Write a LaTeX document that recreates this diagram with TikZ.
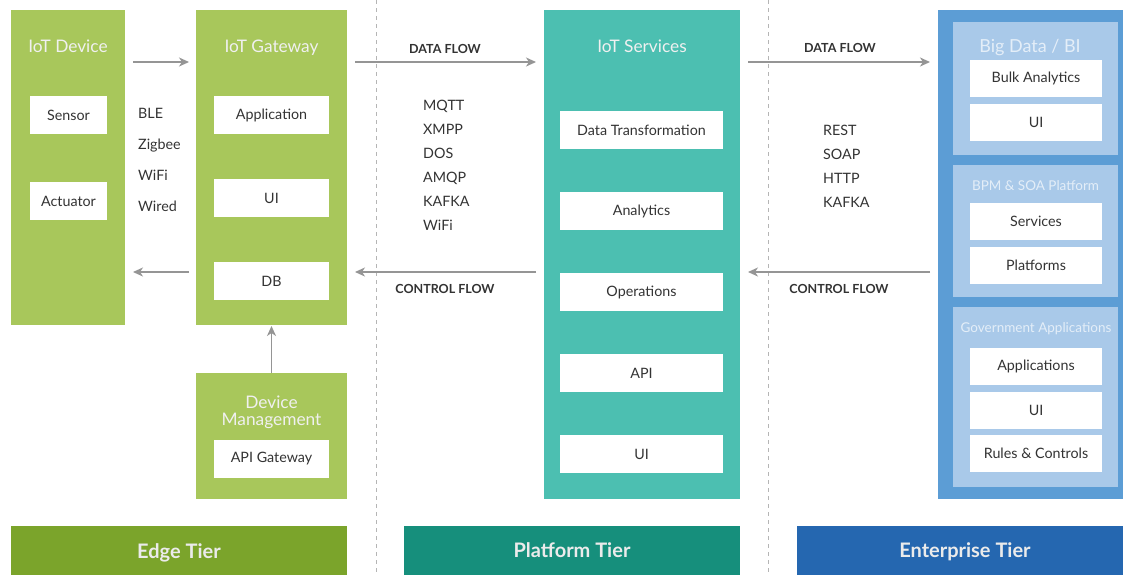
\documentclass[tikz,border=0pt]{standalone}
\usepackage{fontspec}
\setmainfont{Lato}
\usetikzlibrary{arrows.meta}
\definecolor{edgecol}{HTML}{A8C75B}
\definecolor{edgedark}{HTML}{7BA42B}
\definecolor{platcol}{HTML}{4CBFB1}
\definecolor{platdark}{HTML}{168F7C}
\definecolor{entcol}{HTML}{5C9DD5}
\definecolor{entlight}{HTML}{A9C9E9}
\definecolor{entdark}{HTML}{2567B0}
\definecolor{arrowgray}{HTML}{959595}
\definecolor{divgray}{HTML}{B5B5B5}
\definecolor{textdark}{HTML}{333333}
\definecolor{paletitle}{HTML}{E4EEF8}
\begin{document}
\begin{tikzpicture}[x=1pt,y=-1pt,
  panel/.style={inner sep=0pt, outer sep=0pt, anchor=north west},
  wbox/.style={fill=white, text=textdark, inner sep=0pt, outer sep=0pt,
    minimum height=38pt, font=\fontsize{14.3}{16}\selectfont},
  coltitle/.style={text=white!94!black, inner sep=0pt, anchor=base,
    font=\fontsize{17.3}{17}\selectfont},
  subtitle/.style={text=paletitle, inner sep=0pt, anchor=base,
    font=\fontsize{13.5}{13}\selectfont},
  proto/.style={text=textdark, inner sep=0pt, anchor=base west,
    font=\fontsize{14.3}{16}\selectfont},
  flowlbl/.style={text=textdark, inner sep=0pt, anchor=base,
    font=\bfseries\fontsize{12.5}{14}\selectfont},
  tiertxt/.style={text=white!92!black, inner sep=0pt, anchor=base,
    font=\bfseries\fontsize{20}{22}\selectfont},
  flow/.style={draw=arrowgray, line width=1.6pt,
    -{Stealth[length=10pt,width=9pt,inset=3pt]}},
  divider/.style={draw=divgray, line width=0.8pt, dash pattern=on 4pt off 4pt}
]
\useasboundingbox (0,0) rectangle (1123,574);
\fill[white] (0,0) rectangle (1123,574);

% tier dividers
\coordinate (d1t) at (376,0);  \coordinate (d1b) at (376,574);
\coordinate (d2t) at (768,0);  \coordinate (d2b) at (768,574);
\draw[divider] (d1t) -- (d1b);
\draw[divider] (d2t) -- (d2b);

% ---------------- Edge tier ----------------
\node[panel, fill=edgecol, minimum width=114pt, minimum height=315pt] (dev) at (11,10) {};
\node[coltitle] (devt) at (68,52) {IoT Device};
\node[wbox, minimum width=77pt] (sensor) at (68.5,115) {Sensor};
\node[wbox, minimum width=77pt] (actuator) at (68.5,201) {Actuator};

\node[panel, fill=edgecol, minimum width=151pt, minimum height=315pt] (gw) at (196,10) {};
\node[coltitle] (gwt) at (271.5,52) {IoT Gateway};
\node[wbox, minimum width=115pt] (app) at (271.5,115) {Application};
\node[wbox, minimum width=115pt] (gwui) at (271.5,198) {UI};
\node[wbox, minimum width=115pt] (db) at (271.5,281) {DB};

\node[panel, fill=edgecol, minimum width=151pt, minimum height=126pt] (dm) at (196,373) {};
\node[coltitle] (dmt1) at (271.5,408) {Device};
\node[coltitle] (dmt2) at (271.5,425) {Management};
\node[wbox, minimum width=115pt] (apigw) at (271.5,459) {API Gateway};

\node[proto] (p1) at (138,118) {BLE};
\node[proto] (p2) at (138,149) {Zigbee};
\node[proto] (p3) at (138,180) {WiFi};
\node[proto] (p4) at (138,211) {Wired};

\coordinate (e1s) at (133,62);  \coordinate (e1e) at (189,62);
\coordinate (e2s) at (189,272); \coordinate (e2e) at (133,272);
\draw[flow] (e1s) -- (e1e);
\draw[flow] (e2s) -- (e2e);
\draw[flow, shorten >=1pt] (dm.north) -- (gw.south);

\node[panel, fill=edgedark, minimum width=336pt, minimum height=50pt] (edgetier) at (11,526) {};
\node[tiertxt] (edgelbl) at (179,558) {Edge Tier};

% ---------------- Platform tier ----------------
\node[panel, fill=platcol, minimum width=196pt, minimum height=489pt] (svc) at (544,10) {};
\node[coltitle] (svct) at (642,52) {IoT Services};
\node[wbox, minimum width=163pt] (dt) at (641.5,130) {Data Transformation};
\node[wbox, minimum width=163pt] (ana) at (641.5,211) {Analytics};
\node[wbox, minimum width=163pt] (ops) at (641.5,292) {Operations};
\node[wbox, minimum width=163pt] (api) at (641.5,373) {API};
\node[wbox, minimum width=163pt] (svcui) at (641.5,454) {UI};

\node[flowlbl] (df1) at (445,53) {DATA FLOW};
\node[flowlbl] (cf1) at (445,293.5) {CONTROL FLOW};
\coordinate (m1s) at (355,62);  \coordinate (m1e) at (536,62);
\coordinate (m2s) at (536,272); \coordinate (m2e) at (355,272);
\draw[flow] (m1s) -- (m1e);
\draw[flow] (m2s) -- (m2e);

\node[proto] (q1) at (423,110) {MQTT};
\node[proto] (q2) at (423,134) {XMPP};
\node[proto] (q3) at (423,158) {DOS};
\node[proto] (q4) at (423,182) {AMQP};
\node[proto] (q5) at (423,206.5) {KAFKA};
\node[proto] (q6) at (423,230) {WiFi};

\node[panel, fill=platdark, minimum width=336pt, minimum height=50pt] (plattier) at (404,526) {};
\node[tiertxt] (platlbl) at (572,557) {Platform Tier};

% ---------------- Enterprise tier ----------------
\node[panel, fill=entcol, minimum width=186pt, minimum height=489pt] (ent) at (938,10) {};
\node[panel, fill=entlight, minimum width=165pt, minimum height=133pt] (bi) at (953,22) {};
\node[panel, fill=entlight, minimum width=165pt, minimum height=132pt] (bpm) at (953,165) {};
\node[panel, fill=entlight, minimum width=165pt, minimum height=180pt] (gov) at (953,307) {};

\node[subtitle, font=\fontsize{18}{18}\selectfont] (bit) at (1030,52.5) {Big Data / BI};
\node[wbox, minimum width=132pt, minimum height=37pt] (bulk) at (1036,78.5) {Bulk Analytics};
\node[wbox, minimum width=132pt, minimum height=37pt] (biui) at (1036,122) {UI};

\node[subtitle] (bpmt) at (1035.5,190) {BPM \& SOA Platform};
\node[wbox, minimum width=132pt, minimum height=37pt] (srv) at (1036,221.5) {Services};
\node[wbox, minimum width=132pt, minimum height=37pt] (plat) at (1036,265) {Platforms};

\node[subtitle] (govt) at (1036,332.5) {Government Applications};
\node[wbox, minimum width=132pt, minimum height=37pt] (apps) at (1036,366.5) {Applications};
\node[wbox, minimum width=132pt, minimum height=37pt] (govui) at (1036,410) {UI};
\node[wbox, minimum width=132pt, minimum height=37pt] (rules) at (1036,453) {Rules \& Controls};

\node[flowlbl] (df2) at (840,52.5) {DATA FLOW};
\node[flowlbl] (cf2) at (839,293) {CONTROL FLOW};
\coordinate (r1s) at (748,62);  \coordinate (r1e) at (930,62);
\coordinate (r2s) at (930,272); \coordinate (r2e) at (748,272);
\draw[flow] (r1s) -- (r1e);
\draw[flow] (r2s) -- (r2e);

\node[proto] (s1) at (823,135) {REST};
\node[proto] (s2) at (823,159) {SOAP};
\node[proto] (s3) at (823,183) {HTTP};
\node[proto] (s4) at (823,207) {KAFKA};

\node[panel, fill=entdark, minimum width=327pt, minimum height=50pt] (enttier) at (797,526) {};
\node[tiertxt] (entlbl) at (965,557) {Enterprise Tier};
\end{tikzpicture}
\end{document}
